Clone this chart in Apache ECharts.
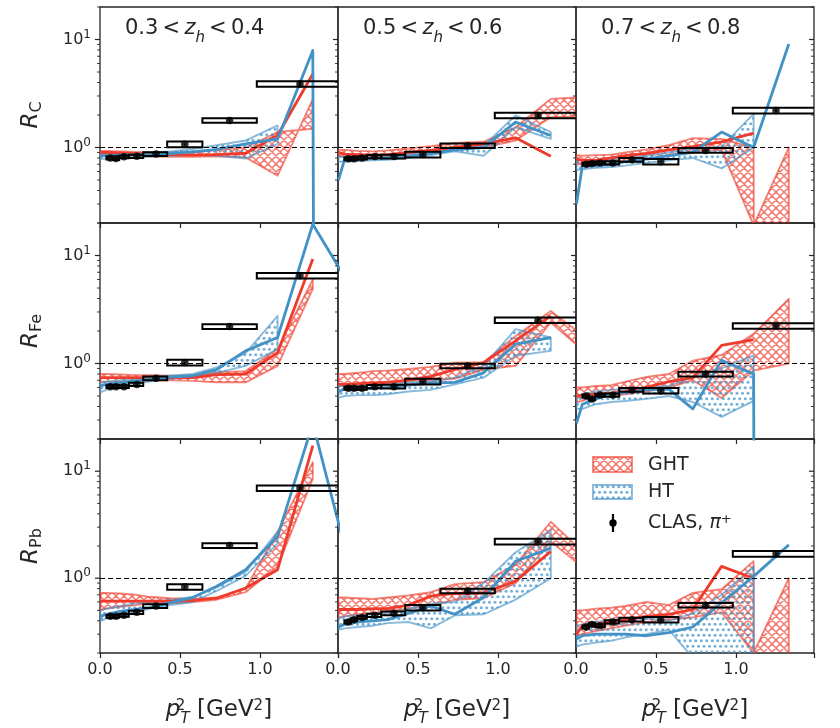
<!DOCTYPE html>
<html>
<head>
<meta charset="utf-8">
<script src="https://cdn.jsdelivr.net/npm/echarts@6/dist/echarts.min.js"></script>
<style>
  html, body { margin: 0; padding: 0; background: #fff; }
  #chart { width: 840px; height: 728px; }
</style>
</head>
<body>
<div id="chart"></div>
<script>
// model grid in pT^2 and the CLAS bins
var xModel = [0.003, 0.04, 0.125, 0.22, 0.31, 0.44, 0.58, 0.73, 0.91, 1.11, 1.33, 1.58];
var xClas = [0.065, 0.10, 0.15, 0.23, 0.35, 0.53, 0.81, 1.25];
var binLo = [0.04, 0.08, 0.12, 0.18, 0.27, 0.42, 0.64, 0.98];
var binHi = [0.08, 0.12, 0.18, 0.27, 0.42, 0.64, 0.98, 1.70];
var sysRel = [0.03, 0.03, 0.03, 0.035, 0.04, 0.06, 0.05, 0.06];
var statRel = [0.01, 0.01, 0.01, 0.015, 0.015, 0.02, 0.025, 0.03];
var zhLabels = ['0.3', '0.4', '0.5', '0.6', '0.7', '0.8'];
var targets = ['C', 'Fe', 'Pb'];
var yTicks = [0.2, 0.3, 0.4, 0.5, 0.6, 0.7, 0.8, 0.9, 1, 2, 3, 4, 5, 6, 7, 8, 9, 10, 20];
var ZERO = 1e-100; // model value 0, drawn as a drop off the log axis

// carbon
var clasC03 = [0.80, 0.79, 0.82, 0.83, 0.87, 1.07, 1.78, 3.88];
var ghtC03 = [0.9, 0.9, 0.89, 0.88, 0.87, 0.86, 0.85, 0.86, 0.885, 1.3, 4.8, null];
var ghtAC03 = [0.93, 0.93, 0.92, 0.91, 0.90, 0.9, 0.9, 0.95, 1.0, 1.39, 1.49, null];
var ghtBC03 = [0.86, 0.86, 0.85, 0.84, 0.83, 0.82, 0.82, 0.83, 0.81, 0.55, 2.8, null];
var htC03 = [0.84, 0.84, 0.85, 0.86, 0.86, 0.88, 0.91, 0.96, 1.08, 1.2, 7.9, ZERO];
var htAC03 = [0.88, 0.88, 0.88, 0.89, 0.9, 0.92, 0.97, 1.05, 1.16, 1.6, null, null];
var htBC03 = [0.78, 0.79, 0.8, 0.81, 0.82, 0.84, 0.86, 0.84, 0.79, 1.08, null, null];

var clasC05 = [0.785, 0.785, 0.80, 0.825, 0.825, 0.86, 1.04, 1.98];
var ghtC05 = [0.9, 0.87, 0.86, 0.85, 0.86, 0.9, 0.94, 1.0, 1.08, 1.23, 0.83, null];
var ghtAC05 = [0.95, 0.95, 0.93, 0.92, 0.94, 0.98, 1.03, 1.1, 1.13, 1.54, 2.82, 2.95];
var ghtBC05 = [0.83, 0.83, 0.82, 0.82, 0.84, 0.88, 0.93, 0.98, 1.0, 1.16, 1.91, 1.95];
var htC05 = [0.5, 0.77, 0.78, 0.79, 0.80, 0.83, 0.88, 0.95, 1.0, 1.72, 1.29, null];
var htAC05 = [0.82, 0.82, 0.82, 0.83, 0.84, 0.87, 0.92, 0.99, 1.04, 1.98, 1.39, null];
var htBC05 = [0.74, 0.74, 0.75, 0.76, 0.77, 0.8, 0.85, 0.92, 0.84, 1.54, 1.2, null];

var clasC07 = [0.70, 0.71, 0.72, 0.72, 0.77, 0.74, 0.94, 2.2];
var ghtC07 = [0.78, 0.76, 0.76, 0.8, 0.84, 0.88, 0.95, 1.02, 1.13, 1.36, null, null];
var ghtAC07 = [0.85, 0.84, 0.85, 0.86, 0.9, 0.96, 1.05, 1.22, 1.2, 1.0, ZERO, null];
var ghtBC07 = [0.7, 0.7, 0.7, 0.72, 0.76, 0.78, 0.84, 0.92, 0.95, 0.19, 1.0, null];
var htC07 = [0.3, 0.68, 0.68, 0.7, 0.74, 0.78, 0.84, 0.9, 1.39, 1.0, 9.1, null];
var htAC07 = [0.78, 0.76, 0.75, 0.78, 0.8, 0.84, 0.9, 0.98, 1.02, 2.05, null, null];
var htBC07 = [0.62, 0.63, 0.65, 0.66, 0.68, 0.72, 0.76, 0.8, 0.64, 1.0, null, null];

// iron
var clasFe03 = [0.61, 0.61, 0.61, 0.64, 0.73, 1.02, 2.2, 6.5];
var ghtFe03 = [0.74, 0.74, 0.74, 0.74, 0.74, 0.74, 0.74, 0.79, 0.8, 1.26, 9.3, null];
var ghtAFe03 = [0.8, 0.8, 0.79, 0.78, 0.78, 0.77, 0.77, 0.83, 0.85, 1.36, 6.0, null];
var ghtBFe03 = [0.68, 0.68, 0.68, 0.69, 0.7, 0.7, 0.69, 0.67, 0.67, 0.95, 4.9, null];
var htFe03 = [0.62, 0.64, 0.66, 0.69, 0.72, 0.75, 0.77, 0.88, 1.31, 1.74, 19.5, 4.75];
var htAFe03 = [0.66, 0.68, 0.7, 0.72, 0.75, 0.77, 0.8, 0.92, 1.25, 2.76, null, null];
var htBFe03 = [0.54, 0.57, 0.61, 0.65, 0.68, 0.72, 0.75, 0.82, 0.95, 1.36, null, null];

var clasFe05 = [0.59, 0.59, 0.59, 0.61, 0.61, 0.68, 0.95, 2.52];
var ghtFe05 = [0.64, 0.64, 0.65, 0.66, 0.67, 0.7, 0.76, 0.88, 1.02, 1.62, 2.76, null];
var ghtAFe05 = [0.8, 0.8, 0.82, 0.85, 0.86, 0.89, 0.93, 1.02, 1.03, 1.8, 3.07, 1.6];
var ghtBFe05 = [0.62, 0.63, 0.64, 0.66, 0.68, 0.69, 0.7, 0.72, 0.88, 0.95, 2.4, 1.15];
var htFe05 = [0.55, 0.58, 0.58, 0.59, 0.6, 0.63, 0.66, 0.67, 0.82, 1.51, 1.74, null];
var htAFe05 = [0.62, 0.62, 0.62, 0.63, 0.64, 0.67, 0.68, 0.74, 0.95, 2.08, 1.74, null];
var htBFe05 = [0.48, 0.5, 0.51, 0.51, 0.52, 0.55, 0.57, 0.64, 0.74, 1.18, 1.31, null];

var clasFe07 = [0.50, 0.47, 0.51, 0.51, 0.57, 0.56, 0.80, 2.23];
var ghtFe07 = [0.5, 0.51, 0.52, 0.53, 0.55, 0.6, 0.68, 0.74, 1.47, 1.66, null, null];
var ghtAFe07 = [0.6, 0.6, 0.62, 0.63, 0.68, 0.75, 0.8, 1.06, 1.2, 1.88, 3.97, null];
var ghtBFe07 = [0.44, 0.45, 0.5, 0.5, 0.52, 0.55, 0.6, 0.7, 0.48, 0.86, 1.0, null];
var htFe07 = [0.28, 0.42, 0.47, 0.52, 0.54, 0.57, 0.58, 0.38, 1.07, 0.8, ZERO, null];
var htAFe07 = [0.5, 0.52, 0.55, 0.57, 0.58, 0.6, 0.62, 0.75, 0.9, 1.19, null, null];
var htBFe07 = [0.38, 0.38, 0.42, 0.44, 0.45, 0.47, 0.5, 0.44, 0.32, 0.45, null, null];

// lead
var clasPb03 = [0.44, 0.44, 0.45, 0.48, 0.55, 0.83, 2.02, 6.95];
var ghtPb03 = [0.61, 0.61, 0.61, 0.61, 0.61, 0.61, 0.62, 0.65, 0.81, 1.2, 17.3, null];
var ghtAPb03 = [0.73, 0.73, 0.72, 0.7, 0.67, 0.65, 0.64, 0.66, 0.8, 2.72, 12.1, null];
var ghtBPb03 = [0.5, 0.52, 0.54, 0.56, 0.58, 0.58, 0.6, 0.63, 0.74, 1.29, 8.5, null];
var htPb03 = [0.44, 0.46, 0.49, 0.51, 0.53, 0.59, 0.66, 0.84, 1.2, 2.45, 28, 1.0];
var htAPb03 = [0.5, 0.52, 0.55, 0.58, 0.6, 0.63, 0.67, 0.82, 1.15, 2.72, null, null];
var htBPb03 = [0.4, 0.42, 0.45, 0.48, 0.52, 0.56, 0.6, 0.76, 1.05, 2.12, null, null];

var clasPb05 = [0.39, 0.41, 0.43, 0.45, 0.47, 0.53, 0.76, 2.2];
var ghtPb05 = [0.51, 0.51, 0.51, 0.52, 0.52, 0.56, 0.68, 0.72, 0.73, 0.94, 1.78, null];
var ghtAPb05 = [0.66, 0.66, 0.65, 0.64, 0.66, 0.69, 0.74, 0.88, 0.92, 1.34, 3.37, 1.5];
var ghtBPb05 = [0.43, 0.44, 0.46, 0.47, 0.49, 0.52, 0.55, 0.63, 0.65, 0.9, 2.2, 1.1];
var htPb05 = [0.35, 0.37, 0.39, 0.4, 0.41, 0.47, 0.55, 0.46, 0.66, 1.44, 1.91, null];
var htAPb05 = [0.42, 0.44, 0.45, 0.46, 0.47, 0.52, 0.58, 0.6, 0.9, 1.75, 2.82, null];
var htBPb05 = [0.33, 0.34, 0.35, 0.36, 0.38, 0.39, 0.34, 0.45, 0.46, 0.63, 1.0, null];

var clasPb07 = [0.35, 0.37, 0.36, 0.39, 0.41, 0.41, 0.56, 1.69];
var ghtPb07 = [0.3, 0.36, 0.37, 0.39, 0.41, 0.44, 0.46, 0.51, 1.29, 1.0, null, null];
var ghtAPb07 = [0.5, 0.5, 0.52, 0.53, 0.55, 0.6, 0.56, 0.73, 0.79, 1.44, ZERO, null];
var ghtBPb07 = [0.29, 0.3, 0.32, 0.34, 0.36, 0.39, 0.41, 0.43, 0.48, 0.2, 1.0, null];
var htPb07 = [0.27, 0.29, 0.3, 0.3, 0.3, 0.29, 0.31, 0.35, 0.59, 1.04, 2.05, null];
var htAPb07 = [0.36, 0.37, 0.39, 0.41, 0.42, 0.42, 0.4, 0.47, 0.7, 1.29, null, null];
var htBPb07 = [0.23, 0.24, 0.25, 0.26, 0.28, 0.3, 0.33, 0.18, 0.17, 0.17, null, null];

var panels = [
    [clasC03, ghtC03, ghtAC03, ghtBC03, htC03, htAC03, htBC03],
    [clasC05, ghtC05, ghtAC05, ghtBC05, htC05, htAC05, htBC05],
    [clasC07, ghtC07, ghtAC07, ghtBC07, htC07, htAC07, htBC07],
    [clasFe03, ghtFe03, ghtAFe03, ghtBFe03, htFe03, htAFe03, htBFe03],
    [clasFe05, ghtFe05, ghtAFe05, ghtBFe05, htFe05, htAFe05, htBFe05],
    [clasFe07, ghtFe07, ghtAFe07, ghtBFe07, htFe07, htAFe07, htBFe07],
    [clasPb03, ghtPb03, ghtAPb03, ghtBPb03, htPb03, htAPb03, htBPb03],
    [clasPb05, ghtPb05, ghtAPb05, ghtBPb05, htPb05, htAPb05, htBPb05],
    [clasPb07, ghtPb07, ghtAPb07, ghtBPb07, htPb07, htAPb07, htBPb07]
];

var FONT = 'DejaVu Sans';
var INK = '#262626';
var RED = '#ef3b2c', BLUE = '#4292c6';
var RED_SOFT = 'rgba(239,59,44,0.62)', BLUE_SOFT = 'rgba(66,146,198,0.62)';
var XMAX = 1.4875;

function crossHatch(color) {
    var c = document.createElement('canvas');
    c.width = 16; c.height = 16;
    var g = c.getContext('2d');
    g.strokeStyle = color;
    g.lineWidth = 1.5;
    g.beginPath();
    for (var k = -2; k <= 2; k++) {
        var o = k * 8;
        g.moveTo(o, 0); g.lineTo(o + 16, 16);
        g.moveTo(o, 16); g.lineTo(o + 16, 0);
    }
    g.stroke();
    return { image: c, repeat: 'repeat' };
}

function dotHatch(color) {
    var c = document.createElement('canvas');
    c.width = 11; c.height = 11;
    var g = c.getContext('2d');
    g.fillStyle = color;
    var pts = [[2.75, 2.75], [8.25, 2.75], [0, 8.25], [5.5, 8.25], [11, 8.25]];
    pts.forEach(function (p) {
        g.beginPath(); g.arc(p[0], p[1], 1.5, 0, Math.PI * 2); g.fill();
    });
    return { image: c, repeat: 'repeat' };
}

var redFill = crossHatch('rgba(239,59,44,0.68)');
var blueFill = dotHatch('rgba(66,146,198,0.72)');

var grids = [], xAxes = [], yAxes = [], series = [];

function bandSeries(gi, ys1, ys2, fill, edge) {
    return {
        type: 'custom', xAxisIndex: gi, yAxisIndex: gi, z: 2, silent: true, clip: true,
        data: [[xModel[0], 1]],
        renderItem: function (params, api) {
            var pts = [];
            for (var i = 0; i < xModel.length; i++) {
                if (ys1[i] != null) pts.push(api.coord([xModel[i], ys1[i]]));
            }
            for (var j = xModel.length - 1; j >= 0; j--) {
                if (ys2[j] != null) pts.push(api.coord([xModel[j], ys2[j]]));
            }
            return {
                type: 'polygon', shape: { points: pts },
                style: { fill: fill, stroke: edge, lineWidth: 1.9, lineJoin: 'round' }
            };
        }
    };
}

function lineSeries(gi, ys, color, z) {
    return {
        type: 'line', xAxisIndex: gi, yAxisIndex: gi, z: z, silent: true,
        showSymbol: false, symbol: 'none', connectNulls: false,
        data: xModel.map(function (x, i) { return [x, ys[i]]; }),
        lineStyle: { color: color, width: 2.8, join: 'round' }
    };
}

for (var p = 0; p < 9; p++) {
    var r = Math.floor(p / 3), c = p % 3;
    var d = panels[p];
    grids.push({
        left: 100 + 238 * c, top: 7 + 216 * r, width: 238, height: 216,
        show: true, borderColor: INK, borderWidth: 1.3, backgroundColor: 'transparent'
    });
    xAxes.push({
        type: 'value', gridIndex: p, min: 0, max: XMAX, interval: 0.5,
        axisLine: { show: false }, splitLine: { show: false },
        axisTick: { show: true, length: 5, lineStyle: { color: INK, width: 1.2 } },
        axisLabel: {
            show: r === 2, margin: 9, color: INK, fontFamily: FONT, fontSize: 16,
            formatter: function (v) { return v > 1.2 ? '' : v.toFixed(1); }
        },
        name: r === 2 ? '{i|p}{up|2}{lo|T}{n| [GeV}{sup|2}{n|]}' : '',
        nameLocation: 'middle', nameGap: 46,
        nameTextStyle: {
            color: INK, fontFamily: FONT,
            rich: {
                i: { fontSize: 23, fontStyle: 'italic', fontFamily: FONT, color: INK },
                up: { fontSize: 15, width: 0, verticalAlign: 'top', fontFamily: FONT, color: INK, lineHeight: 15 },
                lo: { fontSize: 15, fontStyle: 'italic', verticalAlign: 'bottom', fontFamily: FONT, color: INK, lineHeight: 15, padding: [0, 0, -5, 0] },
                n: { fontSize: 23, fontFamily: FONT, color: INK },
                sup: { fontSize: 15, verticalAlign: 'top', fontFamily: FONT, color: INK, lineHeight: 15 }
            }
        }
    });
    yAxes.push({
        type: 'log', logBase: 10, gridIndex: p, min: 0.2, max: 20,
        axisLine: { show: false }, axisTick: { show: false }, splitLine: { show: false },
        axisLabel: {
            show: c === 0, margin: 9, color: INK, fontFamily: FONT,
            showMinLabel: false, showMaxLabel: false,
            formatter: function (v) {
                if (Math.abs(v - 1) < 1e-6) return '{b|10}{s|0}';
                if (Math.abs(v - 10) < 1e-5) return '{b|10}{s|1}';
                return '';
            },
            rich: {
                b: { fontSize: 16, fontFamily: FONT, color: INK, lineHeight: 22 },
                s: { fontSize: 12, fontFamily: FONT, color: INK, verticalAlign: 'top', lineHeight: 12 }
            }
        },
        name: c === 0 ? '{r|R}{s|' + targets[r] + '}' : '',
        nameLocation: 'middle', nameGap: 55, nameRotate: 90,
        nameTextStyle: {
            rich: {
                r: { fontSize: 23, fontStyle: 'italic', fontFamily: FONT, color: INK, lineHeight: 28 },
                s: { fontSize: 16, fontFamily: FONT, color: INK, verticalAlign: 'bottom', lineHeight: 14 }
            }
        }
    });

    series.push(bandSeries(p, d[2], d[3], redFill, RED_SOFT));
    series.push(bandSeries(p, d[5], d[6], blueFill, BLUE_SOFT));
    series.push(lineSeries(p, d[1], RED, 3));
    series.push(lineSeries(p, d[4], BLUE, 4));

    (function (vals, gi, col) {
        // systematic boxes
        series.push({
            type: 'custom', xAxisIndex: gi, yAxisIndex: gi, z: 5, silent: true, clip: true,
            data: xClas.map(function (x, i) { return [x, vals[i]]; }),
            renderItem: function (params, api) {
                var i = params.dataIndex, v = vals[i];
                var a = api.coord([binLo[i], v * (1 + sysRel[i])]);
                var b = api.coord([binHi[i], v * (1 - sysRel[i])]);
                return {
                    type: 'rect', shape: { x: a[0], y: a[1], width: b[0] - a[0], height: b[1] - a[1] },
                    style: { fill: 'none', stroke: '#000', lineWidth: 2 }
                };
            }
        });
        // statistical error bars
        series.push({
            type: 'custom', xAxisIndex: gi, yAxisIndex: gi, z: 6, silent: true, clip: true,
            data: xClas.map(function (x, i) { return [x, vals[i]]; }),
            renderItem: function (params, api) {
                var i = params.dataIndex, v = vals[i];
                var a = api.coord([xClas[i], v * (1 + statRel[i])]);
                var b = api.coord([xClas[i], v * (1 - statRel[i])]);
                return {
                    type: 'line', shape: { x1: a[0], y1: a[1], x2: b[0], y2: b[1] },
                    style: { stroke: '#000', lineWidth: 1.6 }
                };
            }
        });
        series.push({
            type: 'scatter', xAxisIndex: gi, yAxisIndex: gi, z: 7, silent: true,
            symbol: 'circle', symbolSize: 7.5, itemStyle: { color: '#000' },
            data: xClas.map(function (x, i) { return [x, vals[i]]; }),
            markLine: {
                silent: true, symbol: ['none', 'none'], label: { show: false },
                lineStyle: { color: '#000', type: [5, 3], width: 1.2 },
                data: [{ yAxis: 1 }]
            }
        });
        // log-axis ticks, major and minor (left side, plus the right edge of the last column)
        series.push({
            type: 'custom', xAxisIndex: gi, yAxisIndex: gi, z: 9, silent: true, clip: false,
            data: yTicks.map(function (v) { return [0, v]; }),
            renderItem: function (params, api) {
                var v = yTicks[params.dataIndex];
                var major = (v === 1 || v === 10);
                var len = major ? 5 : 3;
                var w = major ? 1.2 : 0.9;
                var pt = api.coord([0, v]);
                var kids = [{
                    type: 'line', shape: { x1: pt[0] - len, y1: pt[1], x2: pt[0], y2: pt[1] },
                    style: { stroke: INK, lineWidth: w }
                }];
                if (col === 2) {
                    var q = api.coord([XMAX, v]);
                    kids.push({
                        type: 'line', shape: { x1: q[0] - len, y1: q[1], x2: q[0], y2: q[1] },
                        style: { stroke: INK, lineWidth: w }
                    });
                }
                return { type: 'group', children: kids };
            }
        });
    })(d[0], p, c);
}

var graphics = [];
var TH = '\u2009';
for (var k = 0; k < 3; k++) {
    graphics.push({
        type: 'text', x: 125 + 238 * k, y: 29, silent: true,
        style: {
            text: '{n|' + zhLabels[2 * k] + TH + '<' + TH + '}{i|z}{h|h}{n|' + TH + '<' + TH + zhLabels[2 * k + 1] + '}',
            verticalAlign: 'middle', textVerticalAlign: 'middle',
            rich: {
                n: { fontSize: 21, fontFamily: FONT, fill: INK, color: INK },
                i: { fontSize: 21, fontFamily: FONT, fontStyle: 'italic', fill: INK, color: INK },
                h: { fontSize: 15, fontFamily: FONT, fontStyle: 'italic', fill: INK, color: INK, verticalAlign: 'bottom', padding: [0, 0, -6, 0] }
            }
        }
    });
}
// legend in the lower-right panel
graphics.push({ type: 'rect', shape: { x: 593, y: 457, width: 39, height: 15 }, style: { fill: redFill, stroke: RED_SOFT, lineWidth: 1.9 } });
graphics.push({ type: 'rect', shape: { x: 593, y: 485, width: 39, height: 14 }, style: { fill: blueFill, stroke: BLUE_SOFT, lineWidth: 1.9 } });
graphics.push({ type: 'line', shape: { x1: 613, y1: 514, x2: 613, y2: 532 }, style: { stroke: '#000', lineWidth: 2.2 } });
graphics.push({ type: 'circle', shape: { cx: 613, cy: 523, r: 3.7 }, style: { fill: '#000' } });
[['GHT', 465], ['HT', 492]].forEach(function (t) {
    graphics.push({
        type: 'text', x: 648, y: t[1], silent: true,
        style: { text: t[0], fontSize: 19, fontFamily: FONT, fill: INK, verticalAlign: 'middle', textVerticalAlign: 'middle' }
    });
});
graphics.push({
    type: 'text', x: 648, y: 523, silent: true,
    style: {
        text: '{n|CLAS, }{i|π}{s|+}', verticalAlign: 'middle', textVerticalAlign: 'middle',
        rich: {
            n: { fontSize: 19, fontFamily: FONT, fill: INK, color: INK },
            i: { fontSize: 19, fontFamily: FONT, fontStyle: 'italic', fill: INK, color: INK },
            s: { fontSize: 13, fontFamily: FONT, fill: INK, color: INK, verticalAlign: 'top' }
        }
    }
});

var chart = echarts.init(document.getElementById('chart'), null, { renderer: 'canvas' });
chart.setOption({
    animation: false,
    backgroundColor: '#fff',
    grid: grids,
    xAxis: xAxes,
    yAxis: yAxes,
    series: series,
    graphic: graphics
});
</script>
</body>
</html>
